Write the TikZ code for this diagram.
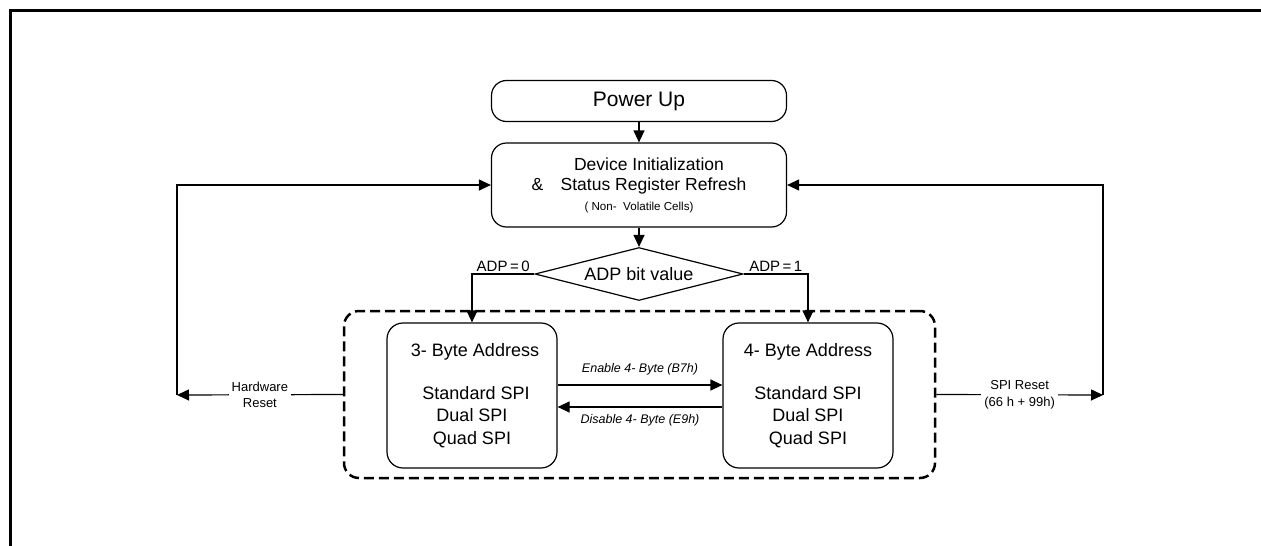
\documentclass[tikz,border=0pt]{standalone}
\usepackage{fontspec}
\setmainfont{Liberation Sans}
\usetikzlibrary{shapes.geometric, arrows.meta}

\begin{document}
\begin{tikzpicture}[x=1pt, y=-1pt,
  arr/.style={line width=1.2pt, -{Triangle[length=12pt,width=11pt]}},
  roundbox/.style={draw, line width=1.2pt, rounded corners=15pt, minimum width=295pt, align=center, inner sep=0pt},
  modebox/.style={draw, line width=1.2pt, rounded corners=16pt, minimum width=170pt, minimum height=145pt, align=center, inner sep=0pt, font=\fontsize{18}{22.5}\selectfont},
  lbl/.style={font=\fontsize{13}{16.5}\selectfont, align=center, fill=white, inner sep=3pt},
  adplbl/.style={font=\fontsize{15}{17}\selectfont, inner sep=2pt},
  cmdlbl/.style={font=\fontsize{12.5}{14}\selectfont\itshape, inner sep=2pt}]
  \useasboundingbox (0,0) rectangle (1261,546);

  % outer frame
  \draw[line width=3pt] (1262,10) -- (10,10) -- (10,547);

  % boxes
  \node[roundbox, minimum height=41pt, font=\fontsize{21}{25}\selectfont] (power) at (639,101) {Power Up};
  \node[roundbox, minimum height=84pt, font=\fontsize{17.5}{20}\selectfont] (init) at (639,185)
    {\hspace{20pt}Device Initialization\\ \&\quad Status Register Refresh\\ {\fontsize{11.6}{14}\selectfont ( Non-\ \ Volatile Cells)}};
  \node[draw, diamond, aspect=4, minimum width=208pt, minimum height=53pt, inner sep=0pt, line width=1.2pt, font=\fontsize{18}{20}\selectfont] (adp) at (639,274) {ADP bit value};

  \node[draw, line width=2.5pt, dash pattern=on 10pt off 5pt, rounded corners=15pt, minimum width=591pt, minimum height=167pt] (modes) at (639.5,394.5) {};
  \node[modebox] (three) at (472,395.5) {\hspace{6pt}3- Byte Address\\[20pt]\hspace{8pt}Standard SPI\\Dual SPI\\Quad SPI};
  \node[modebox] (four) at (808,395.5) {4- Byte Address\\[20pt]Standard SPI\\Dual SPI\\Quad SPI};

  \coordinate (hw) at (177,395);
  \coordinate (spi) at (1103,395);

  % connectors
  \draw[arr] (power) -- (init);
  \draw[arr] (init) -- (adp);
  \draw[arr] (adp.west) -| node[pos=0.25, above, adplbl] {ADP\,=\,0} (three.north);
  \draw[arr] (adp.east) -| node[pos=0.25, above, adplbl] {ADP\,=\,1} (four.north);

  \draw[arr] ([yshift=10.5pt]three.east) -- node[above=7pt, cmdlbl] {Enable 4- Byte (B7h)} ([yshift=10.5pt]four.west);
  \draw[arr] ([yshift=-11.5pt]four.west) -- node[below=5pt, cmdlbl] {Disable 4- Byte (E9h)} ([yshift=-11.5pt]three.east);

  \draw[arr] (modes.west) -- node[lbl] {Hardware\\Reset} (hw);
  \draw[arr] (hw) |- (init.west);
  \draw[arr] (modes.east) -- node[lbl] {SPI Reset\\(66 h + 99h)} (spi);
  \draw[arr] (spi) |- (init.east);
\end{tikzpicture}
\end{document}
